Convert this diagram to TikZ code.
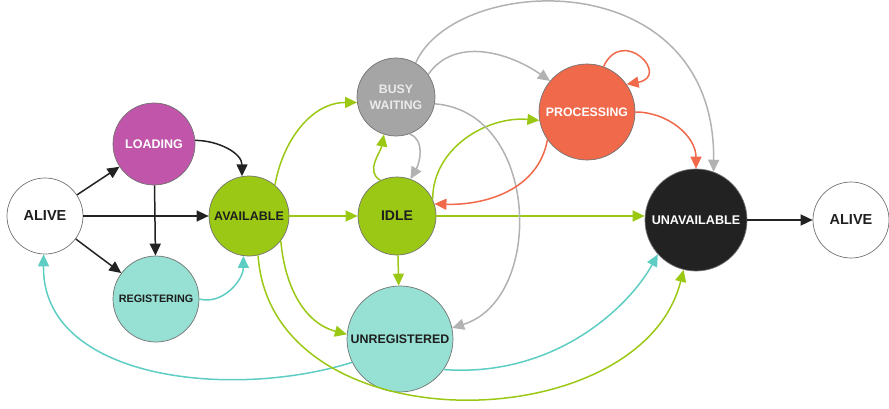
\documentclass[tikz,border=0pt]{standalone}
\usepackage{fontspec}
\setmainfont{Liberation Sans}
\usetikzlibrary{arrows.meta}
\definecolor{cgreen}{RGB}{155,200,20}
\definecolor{ctealline}{RGB}{94,205,195}
\definecolor{ctealfill}{RGB}{150,225,212}
\definecolor{cpurple}{RGB}{193,85,170}
\definecolor{cgraynode}{RGB}{165,165,165}
\definecolor{cgrayline}{RGB}{178,178,178}
\definecolor{corange}{RGB}{240,105,75}
\definecolor{cblack}{RGB}{34,34,34}
\definecolor{ctext}{RGB}{30,30,30}
\tikzset{
  state/.style={circle, inner sep=0pt, draw=black!55, line width=0.7pt, font=\bfseries, align=center, text=ctext},
  conn/.style={line width=1.5pt, -{Triangle[length=12pt,width=11pt]}},
  blk/.style={conn, draw=cblack},
  grn/.style={conn, draw=cgreen},
  tel/.style={conn, draw=ctealline},
  gry/.style={conn, draw=cgrayline},
  org/.style={conn, draw=corange},
}
\begin{document}
\begin{tikzpicture}[x=1pt,y=1pt]
\useasboundingbox (0,0) rectangle (889,408);
% nodes
\node[state, fill=white, minimum size=76pt, font=\bfseries\fontsize{14.5}{16}\selectfont] (aliveL) at (45,192) {ALIVE};
\node[state, fill=cpurple, minimum size=82pt, text=white, font=\bfseries\fontsize{12.5}{14}\selectfont] (loading) at (154,264) {LOADING};
\node[state, fill=cgreen, minimum size=80pt, font=\bfseries\fontsize{12.5}{14}\selectfont] (avail) at (249,192) {AVAILABLE};
\node[state, fill=ctealfill, minimum size=86pt, font=\bfseries\fontsize{10.8}{12}\selectfont] (reg) at (156,109) {REGISTERING};
\node[state, fill=cgraynode, minimum size=78pt, text=white!92!black, font=\bfseries\fontsize{12.3}{16}\selectfont] (busy) at (396,311) {BUSY\\WAITING};
\node[state, fill=corange, minimum size=96pt, text=white, font=\bfseries\fontsize{12.3}{14}\selectfont] (proc) at (587,296) {PROCESSING};
\node[state, fill=cgreen, minimum size=78pt, font=\bfseries\fontsize{14}{16}\selectfont] (idle) at (397,192) {IDLE};
\node[state, fill=ctealfill, minimum size=106pt, font=\bfseries\fontsize{12.4}{14}\selectfont] (unreg) at (400,69) {UNREGISTERED};
\node[state, fill=cblack, minimum size=102pt, text=white, font=\bfseries\fontsize{12.6}{14}\selectfont] (unavail) at (696,188) {UNAVAILABLE};
\node[state, fill=white, minimum size=76pt, font=\bfseries\fontsize{14.5}{16}\selectfont] (aliveR) at (851,188) {ALIVE};
% black connectors
\draw[blk] (aliveL) -- (loading);
\draw[blk] (aliveL) -- (reg);
\draw[blk] (aliveL.east) -- (avail.west);
\draw[blk] (loading) -- (reg);
\draw[blk] (loading.5) to[out=0,in=90] (avail.100);
\draw[blk] (unavail.east) -- (aliveR.west);
% teal connectors
\draw[tel] (reg.east) to[out=-15,in=-90] (avail.-98);
\draw[tel] (unreg.206) .. controls +(-122,-38) and +(-2,-125) .. (aliveL.-92);
\draw[tel] (unreg.-35) .. controls +(113,-8) and +(-28,-51) .. (unavail.222);
% green connectors
\draw[grn] (avail.50) to[out=80,in=180] (busy.188);
\draw[grn] (avail.east) -- (idle.west);
\draw[grn] (avail.-38) to[out=-85,in=165] (unreg.175);
\draw[grn] (avail.-77) .. controls +(13,-192) and +(-43,-171) .. (unavail.-104);
\draw[grn] (idle.115) to[out=150,in=-100] (busy.-108);
\draw[grn] (idle.25) to[out=90,in=175] (proc.190);
\draw[grn] (idle) -- (unreg);
\draw[grn] (idle.east) -- (unavail.west |- idle.east);
% gray connectors
\draw[gry] (busy.-70) to[out=-20,in=60] (idle.70);
\draw[gry] (busy.35) to[out=55,in=145] (proc.140);
\draw[gry] (busy.60) .. controls +(40,90) and +(2,210) .. (unavail.70);
\draw[gry] (busy.-10) .. controls +(105,-8) and +(93,29) .. (unreg.12);
% orange connectors
\draw[org] (proc.70) to[out=65,in=10,looseness=4] (proc.35);
\draw[org] (proc.-145) to[out=-100,in=-2] (idle.18);
\draw[org] (proc.east) to[out=0,in=90] (unavail.90);
\end{tikzpicture}
\end{document}
